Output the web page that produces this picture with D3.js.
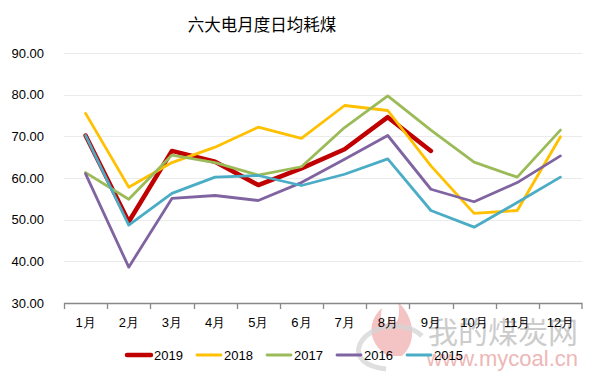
<!DOCTYPE html>
<html>
<head>
<meta charset="utf-8">
<script src="https://cdn.jsdelivr.net/npm/d3@7"></script>
<style>
  body { margin: 0; background: #fff; }
  svg { display: block; font-family: "Noto Sans CJK SC", "Noto Sans", sans-serif; }
</style>
</head>
<body>
<div id="chart"></div>
<script>
// Data
const months = ['1月', '2月', '3月', '4月', '5月', '6月', '7月', '8月', '9月', '10月', '11月', '12月'];
const yTicks = [30, 40, 50, 60, 70, 80, 90];
const years = ['2019', '2018', '2017', '2016', '2015'];
const v2019 = [70.2, 49.5, 66.5, 63.9, 58.3, 62.3, 66.9, 74.6, 66.5];
const v2018 = [75.5, 57.8, 63.7, 67.4, 72.2, 69.5, 77.4, 76.2, 62.9, 51.5, 52.2, 69.9];
const v2017 = [61.3, 54.9, 65.5, 63.7, 60.7, 62.7, 72.1, 79.7, 71.5, 63.8, 60.2, 71.5];
const v2016 = [61.0, 38.6, 55.1, 55.8, 54.6, 58.9, 64.5, 70.2, 57.3, 54.3, 58.9, 65.3];
const v2015 = [70.2, 48.7, 56.3, 60.2, 60.6, 58.2, 60.9, 64.6, 52.2, 48.2, 54.1, 60.2];

const seriesValues = [v2019, v2018, v2017, v2016, v2015];
const colors = ['#C00000', '#FFC000', '#9BBB59', '#8064A2', '#4BACC6'];
const widths = [4.5, 2.8, 2.8, 2.8, 2.8];

const width = 597, height = 377;
const margin = {top: 53, right: 15, bottom: 74, left: 64};
const plotW = width - margin.left - margin.right;
const plotH = height - margin.top - margin.bottom;

const svg = d3.select('#chart')
    .append('svg')
    .attr('width', width)
    .attr('height', height);

// Title
svg.append('text')
    .attr('x', 262)
    .attr('y', 31)
    .attr('text-anchor', 'middle')
    .style('font-size', '16.5px')
    .style('fill', '#000')
    .text('六大电月度日均耗煤');

// Watermark (site logo + name)
const wm = svg.append('g').attr('class', 'watermark');
wm.append('path')
    .attr('d', 'M388,356 C366,342 368,320 382,308 C378,324 388,330 390,316 C394,330 402,320 398,302 C414,316 418,342 402,356 Z')
    .attr('fill', '#f0b0b0')
    .attr('opacity', 0.75);
wm.append('path')
    .attr('d', 'M422,336 C405,320 370,324 360,344 C354,357 366,367 386,369')
    .attr('fill', 'none')
    .attr('stroke', '#d4d4d4')
    .attr('stroke-width', 5)
    .attr('opacity', 0.75);
wm.append('text')
    .attr('x', 578)
    .attr('y', 343)
    .attr('text-anchor', 'end')
    .style('font-size', '30px')
    .style('fill', '#c4c4c4')
    .style('opacity', 0.85)
    .text('我的煤炭网');
wm.append('text')
    .attr('x', 578)
    .attr('y', 366)
    .attr('text-anchor', 'end')
    .style('font-size', '22px')
    .style('font-family', 'Liberation Sans, sans-serif')
    .style('fill', '#ecb0b0')
    .style('opacity', 0.9)
    .text('www.mycoal.cn');

const g = svg.append('g')
    .attr('transform', `translate(${margin.left},${margin.top})`);

// Scales
const x = d3.scaleBand().domain(months).range([0, plotW]);
const y = d3.scaleLinear().domain([30, 90]).range([plotH, 0]);

// Gridlines
g.append('g')
    .selectAll('line')
    .data(yTicks.filter(d => d > 30))
    .enter()
    .append('line')
    .attr('x1', 0)
    .attr('x2', plotW)
    .attr('y1', d => Math.round(y(d)) + 0.5)
    .attr('y2', d => Math.round(y(d)) + 0.5)
    .attr('stroke', '#ebebeb')
    .attr('stroke-width', 1);

// Y axis
const yAxis = g.append('g')
    .call(d3.axisLeft(y).tickValues(yTicks).tickFormat(d3.format('.2f')).tickSize(0).tickPadding(20));
yAxis.select('.domain').remove();
yAxis.selectAll('text')
    .style('font-size', '13px')
    .style('font-family', 'Liberation Sans, Arial, sans-serif')
    .style('fill', '#000');

// X axis
const xAxis = g.append('g')
    .attr('transform', `translate(0,${plotH})`)
    .call(d3.axisBottom(x).tickSize(0).tickPadding(15));
xAxis.select('.domain')
    .attr('stroke', '#888')
    .attr('stroke-width', 1.3)
    .attr('d', `M0.5,6V0.5H${plotW}V6`);
xAxis.selectAll('text')
    .style('font-size', '13px')
    .style('fill', '#000');
xAxis.append('g')
    .selectAll('line')
    .data(months.slice(1))
    .enter()
    .append('line')
    .attr('x1', d => Math.round(x(d)) + 0.5)
    .attr('x2', d => Math.round(x(d)) + 0.5)
    .attr('y1', 0)
    .attr('y2', 6)
    .attr('stroke', '#888')
    .attr('stroke-width', 1.3);

// Lines (series drawn in legend order, so 2015 ends up on top)
const line = d3.line()
    .x((d, i) => x(months[i]) + x.bandwidth() / 2)
    .y(d => y(d));

seriesValues.forEach((vals, i) => {
    g.append('path')
        .datum(vals)
        .attr('fill', 'none')
        .attr('stroke', colors[i])
        .attr('stroke-width', widths[i])
        .attr('stroke-linejoin', 'round')
        .attr('stroke-linecap', 'round')
        .attr('d', line);
});

// Legend
const legendX = [125, 195, 265, 335, 405];
const legend = svg.append('g').attr('class', 'legend');
const items = legend.selectAll('.legend-item')
    .data(years)
    .enter()
    .append('g')
    .attr('class', 'legend-item')
    .attr('transform', (d, i) => `translate(${legendX[i]}, 355)`);

items.append('line')
    .attr('x1', 2)
    .attr('x2', 26)
    .attr('stroke', (d, i) => colors[i])
    .attr('stroke-width', (d, i) => widths[i])
    .attr('stroke-linecap', 'round');

items.append('text')
    .attr('x', 29)
    .attr('y', 5)
    .style('font-size', '13px')
    .style('font-family', 'Liberation Sans, Arial, sans-serif')
    .style('fill', '#000')
    .text(d => d);
</script>
</body>
</html>
